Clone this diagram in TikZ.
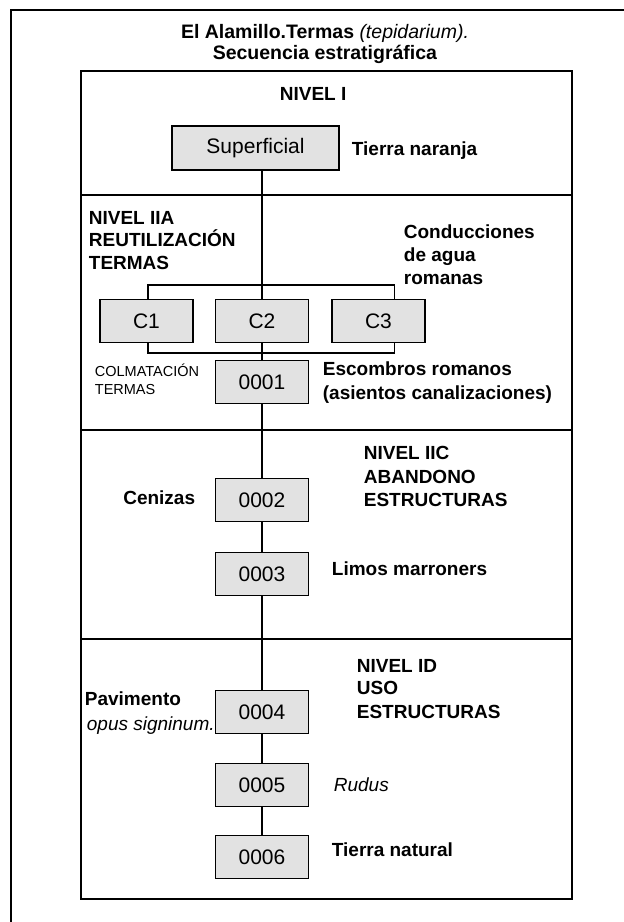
\documentclass[tikz,border=0pt]{standalone}
\usepackage{fontspec}
\setmainfont{Liberation Sans}
\definecolor{boxfill}{RGB}{226,226,226}
\begin{document}
\begin{tikzpicture}[x=1pt,y=-1pt,line width=1.8pt,
  unitbox/.style={draw,fill=boxfill,minimum width=93pt,minimum height=43pt,inner sep=0pt,font=\fontsize{21}{25}\selectfont},
  lbl/.style={anchor=base west,inner sep=0pt,font=\bfseries\fontsize{19}{23}\selectfont},
  itl/.style={anchor=base west,inner sep=0pt,font=\itshape\fontsize{19}{23}\selectfont},
  small/.style={anchor=base west,inner sep=0pt,font=\fontsize{14.5}{17}\selectfont},
  ttl/.style={anchor=base,inner sep=0pt,font=\fontsize{19.5}{23}\selectfont}]
\useasboundingbox (0,0) rectangle (624,922);
% frames
\draw (11,922) -- (11,10) -- (624,10);
\draw (81,71) rectangle (572,899);
\draw (81,195) -- (572,195);
\draw (81,430) -- (572,430);
\draw (81,639) -- (572,639);
% title
\node[ttl] (t1) at (325,38.5) {\textbf{El Alamillo.Termas} \textit{(tepidarium).}};
\node[ttl] (t2) at (325,59.5) {\textbf{Secuencia estratigráfica}};
% units
\node[unitbox,minimum width=167pt,minimum height=44pt] (sup) at (255.5,148) {Superficial};
\node[unitbox] (C1) at (146.5,321) {C1};
\node[unitbox] (C2) at (262,321) {C2};
\node[unitbox] (C3) at (378.5,321) {C3};
\node[unitbox] (n1) at (262,382) {0001};
\node[unitbox] (n2) at (262,500) {0002};
\node[unitbox] (n3) at (262,574) {0003};
\node[unitbox] (n4) at (262,712) {0004};
\node[unitbox] (n5) at (262,785) {0005};
\node[unitbox] (n6) at (262,857) {0006};
% connectors
\coordinate (topbar) at (262,285);
\coordinate (botbar) at (262,353);
\draw (sup.south -| C2.north) -- (C2.north);
\draw ([xshift=1.5pt]C1.north) |- (topbar) -| ([xshift=16pt]C3.north);
\draw ([xshift=1.5pt]C1.south) |- (botbar) -| ([xshift=16pt]C3.south);
\draw (C2.south) -- (n1.north);
\draw (n1.south) -- (n2.north);
\draw (n2.south) -- (n3.north);
\draw (n3.south) -- (n4.north);
\draw (n4.south) -- (n5.north);
\draw (n5.south) -- (n6.north);
% labels
\node[lbl] (nI) at (279,100.5) {NIVEL I};
\node[lbl] (tn) at (351,155) {Tierra naranja};
\node[lbl] (a1) at (88,224.5) {NIVEL IIA};
\node[lbl] (a2) at (88,246.5) {REUTILIZACIÓN};
\node[lbl] (a3) at (88,269.5) {TERMAS};
\node[lbl] (c1) at (403,238.5) {Conducciones};
\node[lbl] (c2) at (403,261.5) {de agua};
\node[lbl] (c3) at (403,284.5) {romanas};
\node[small] (k1) at (94,376) {COLMATACIÓN};
\node[small] (k2) at (94,394) {TERMAS};
\node[lbl] (e1) at (322,375) {Escombros romanos};
\node[lbl] (e2) at (322,399) {(asientos canalizaciones)};
\node[lbl] (b1) at (363,459.5) {NIVEL IIC};
\node[lbl] (b2) at (363,483.5) {ABANDONO};
\node[lbl] (b3) at (363,506.5) {ESTRUCTURAS};
\node[lbl,anchor=base east] (cz) at (196,504.5) {Cenizas};
\node[lbl] (lm) at (331,575.5) {Limos marroners};
\node[lbl] (d1) at (356,672.5) {NIVEL ID};
\node[lbl] (d2) at (356,694.5) {USO};
\node[lbl] (d3) at (356,718.5) {ESTRUCTURAS};
\node[lbl] (pv) at (84,705.5) {Pavimento};
\node[itl] (os) at (86,730) {opus signinum.};
\node[itl] (rd) at (333,791.5) {Rudus};
\node[lbl] (tt) at (331,856.5) {Tierra natural};
\end{tikzpicture}
\end{document}
